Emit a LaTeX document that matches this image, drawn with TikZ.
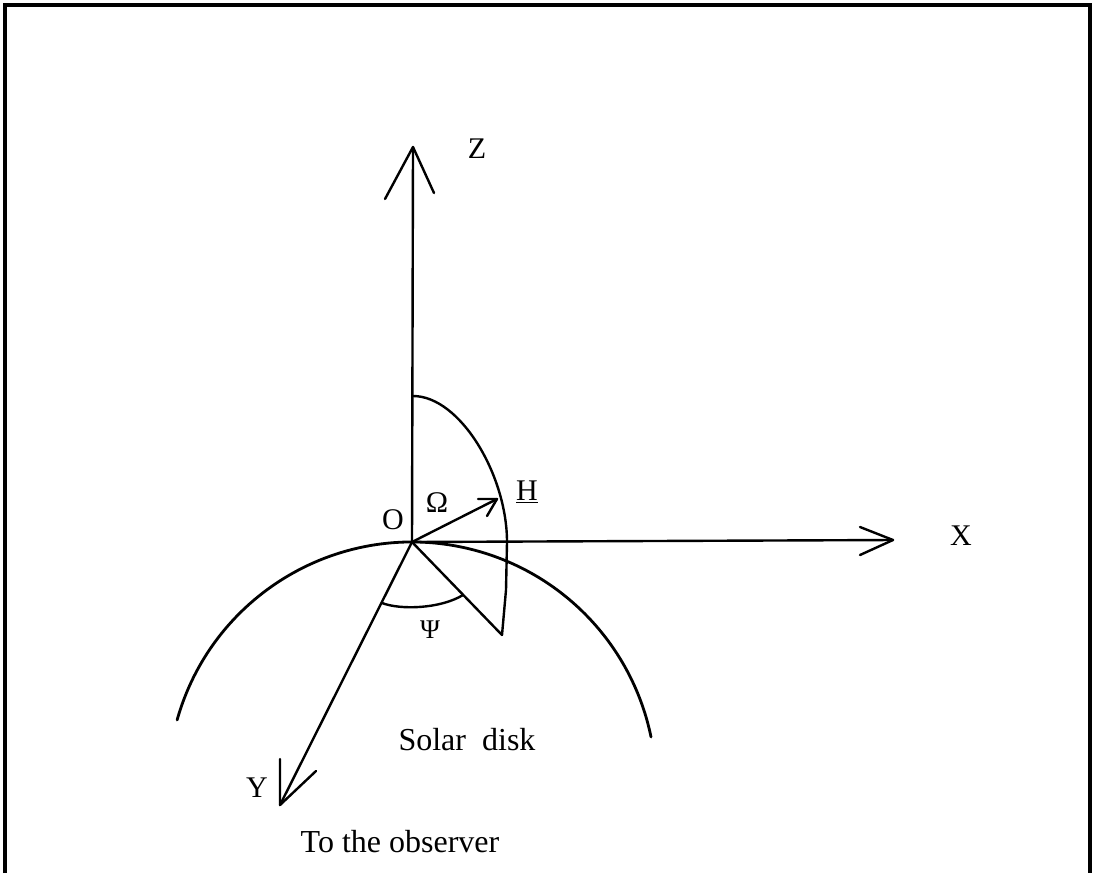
\documentclass[tikz,border=0pt]{standalone}
\usepackage{fontspec}
\setmainfont{Liberation Serif}
\begin{document}
\begin{tikzpicture}[x=1pt,y=-1pt,
  ln/.style={line width=2.4pt,line cap=round,line join=round},
  thk/.style={line width=2.8pt,line cap=round},
  lbl/.style={inner sep=0pt,font=\fontsize{30}{33}\selectfont},
  txt/.style={inner sep=0pt,font=\fontsize{32}{36}\selectfont}]
\useasboundingbox (0,0) rectangle (1102,873);
% frame (open at the bottom)
\draw[line width=3.2pt] (5,873) -- (5,5) -- (1090,5) -- (1090,873);
% points
\coordinate (O) at (412,542);
\coordinate (Zt) at (413,147);
\coordinate (Xt) at (893,540);
\coordinate (Yt) at (280,805);
\coordinate (Ht) at (497,499);
\coordinate (P) at (502,635);
\coordinate (A) at (413,396);
\coordinate (B) at (507,542);
% axes
\draw[ln] (O) -- (Zt);
\draw[ln] (385,199) -- (Zt) -- (434,193);
\draw[ln] (O) -- (Xt);
\draw[ln] (860,527) -- (Xt) -- (860,555);
\draw[ln] (O) -- (Yt);
\draw[ln] (280,759) -- (Yt) -- (316,771);
% H vector
\draw[ln] (O) -- (Ht);
\draw[ln] (478,499) -- (Ht) -- (487,516);
% meridian arc and projection
\draw[ln] (A) .. controls (460,396) and (507,475) .. (B) -- (506,590) -- (P);
\draw[ln] (O) -- (P);
% Psi arc
\draw[ln] (382,603) .. controls (400,610) and (440,609) .. (463,595);
% solar disk
\draw[thk] (412,786) ++(-164.3:244) arc[start angle=-164.3,end angle=-11.6,radius=244];
% labels
\node[lbl] (Zl) at (477,149) {Z};
\node[lbl] (Xl) at (961,536) {X};
\node[lbl] (Yl) at (257,788) {Y};
\node[lbl] (Ol) at (393,520) {O};
\node[lbl] (Om) at (437,503) {Ω};
\node[lbl] (Hl) at (527,492) {\underline{H}};
\node[lbl] (Ps) at (430,630) {\fontsize{27}{29}\selectfont Ψ};
\node[txt] (sd) at (467,740) {Solar\ \ disk};
\node[txt] (ob) at (400,842) {To the observer};
\end{tikzpicture}
\end{document}
